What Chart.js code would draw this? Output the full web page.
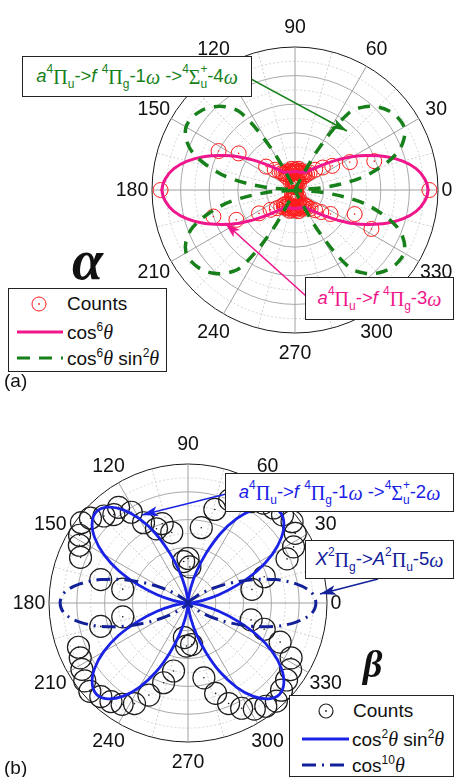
<!DOCTYPE html>
<html>
<head>
<meta charset="utf-8">
<script src="https://cdn.jsdelivr.net/npm/chart.js@4.4.1/dist/chart.umd.min.js"></script>
<style>
html,body{margin:0;padding:0;background:#fff}
body{width:455px;height:777px;position:relative;overflow:hidden;font-family:"Liberation Sans",Arial,sans-serif;color:#111}
canvas{position:absolute;left:0}
#polarA{top:0}
#polarB{top:390px}
svg.arrows{position:absolute;left:0;top:0;z-index:2}
.box{position:absolute;z-index:3;background:#fff;border:1px solid #222;box-sizing:border-box;font-size:18.5px;white-space:nowrap;display:flex;align-items:center;justify-content:center;line-height:1}
.g{font-family:"Liberation Serif","Times New Roman",serif;font-size:20px}
.w{font-family:"Liberation Serif","Times New Roman",serif;font-style:italic;font-size:20px}
.sp{font-size:12px;position:relative;top:-8px}
.sb{font-size:12px;position:relative;top:7px}
.legend{position:absolute;z-index:3;background:#fff;border:1px solid #222;box-sizing:border-box;font-size:19px}
.row{position:absolute;left:0;right:0;height:26px;display:flex;align-items:center;white-space:nowrap}
.row svg{position:absolute;left:0;top:0}
.row span.t{position:absolute}
.big{position:absolute;z-index:3;font-family:"Liberation Serif","Times New Roman",serif;font-style:italic;font-weight:bold;line-height:1}
.panel{position:absolute;z-index:3;font-size:19px;line-height:1}
</style>
</head>
<body>
<canvas id="polarA" width="455" height="380"></canvas>
<canvas id="polarB" width="455" height="387"></canvas>

<svg class="arrows" width="455" height="777">
  <defs>
    <marker id="hGreen" viewBox="0 0 16 10" refX="16" refY="5" markerWidth="16" markerHeight="10" markerUnits="userSpaceOnUse" orient="auto"><path d="M0,0 L16,5 L0,10 L4,5 z" fill="#17801a"/></marker>
    <marker id="hPink" viewBox="0 0 16 10" refX="16" refY="5" markerWidth="16" markerHeight="10" markerUnits="userSpaceOnUse" orient="auto"><path d="M0,0 L16,5 L0,10 L4,5 z" fill="#f0168c"/></marker>
    <marker id="hBlue" viewBox="0 0 16 10" refX="16" refY="5" markerWidth="16" markerHeight="10" markerUnits="userSpaceOnUse" orient="auto"><path d="M0,0 L16,5 L0,10 L4,5 z" fill="#1a22e6"/></marker>
    <marker id="hNavy" viewBox="0 0 16 10" refX="16" refY="5" markerWidth="16" markerHeight="10" markerUnits="userSpaceOnUse" orient="auto"><path d="M0,0 L16,5 L0,10 L4,5 z" fill="#12209a"/></marker>
  </defs>
  <line x1="251" y1="79" x2="347" y2="131" stroke="#17801a" stroke-width="1.5" marker-end="url(#hGreen)"/>
  <line x1="306" y1="296" x2="225" y2="223" stroke="#f0168c" stroke-width="1.5" marker-end="url(#hPink)"/>
  <line x1="226" y1="494" x2="142" y2="515" stroke="#1a22e6" stroke-width="1.5" marker-end="url(#hBlue)"/>
  <line x1="378" y1="579" x2="320" y2="594" stroke="#12209a" stroke-width="1.5" marker-end="url(#hNavy)"/>
</svg>

<!-- annotation boxes -->
<div class="box" style="left:22px;top:56px;width:230px;height:41px;color:#17801a">
  <i>a</i><span class="sp">4</span><span class="g">Π</span><span class="sb">u</span>-&gt;<i>f</i>&nbsp;<span class="sp">4</span><span class="g">Π</span><span class="sb">g</span>-1<span class="w">ω</span>&nbsp;-&gt;<span class="sp">4</span><span class="g">Σ</span><span class="sp">+</span><span class="sb" style="margin-left:-7px">u</span>-4<span class="w">ω</span>
</div>
<div class="box" style="left:305px;top:277px;width:149px;height:43px;color:#f0168c">
  <i>a</i><span class="sp">4</span><span class="g">Π</span><span class="sb">u</span>-&gt;<i>f</i>&nbsp;<span class="sp">4</span><span class="g">Π</span><span class="sb">g</span>-3<span class="w">ω</span>
</div>
<div class="box" style="left:225px;top:473px;width:229px;height:39px;color:#1a22e6">
  <i>a</i><span class="sp">4</span><span class="g">Π</span><span class="sb">u</span>-&gt;<i>f</i>&nbsp;<span class="sp">4</span><span class="g">Π</span><span class="sb">g</span>-1<span class="w">ω</span>&nbsp;-&gt;<span class="sp">4</span><span class="g">Σ</span><span class="sp">+</span><span class="sb" style="margin-left:-7px">u</span>-2<span class="w">ω</span>
</div>
<div class="box" style="left:305px;top:540px;width:149px;height:39px;color:#12209a">
  <i>X</i><span class="sp">2</span><span class="g">Π</span><span class="sb">g</span>-&gt;<i>A</i><span class="sp">2</span><span class="g">Π</span><span class="sb">u</span>-5<span class="w">ω</span>
</div>

<!-- legends -->
<div class="legend" style="left:8px;top:288px;width:159px;height:84px">
  <div class="row" style="top:2px">
    <svg width="60" height="26"><circle cx="30" cy="13" r="7" fill="none" stroke="#ff1a1a" stroke-width="1"/><circle cx="30" cy="13" r="0.9" fill="#ff1a1a"/></svg>
    <span class="t" style="left:58px">Counts</span>
  </div>
  <div class="row" style="top:30px">
    <svg width="60" height="26"><line x1="8" y1="13" x2="54" y2="13" stroke="#f0168c" stroke-width="3"/></svg>
    <span class="t" style="left:58px">cos<span class="sp">6</span><span class="w">θ</span></span>
  </div>
  <div class="row" style="top:56px">
    <svg width="60" height="26"><line x1="8" y1="13" x2="54" y2="13" stroke="#17801a" stroke-width="3" stroke-dasharray="13,9"/></svg>
    <span class="t" style="left:58px">cos<span class="sp">6</span><span class="w">θ</span> sin<span class="sp">2</span><span class="w">θ</span></span>
  </div>
</div>
<div class="legend" style="left:289px;top:695px;width:165px;height:82px">
  <div class="row" style="top:2px">
    <svg width="64" height="26"><circle cx="36" cy="13" r="7" fill="none" stroke="#222" stroke-width="1.2"/><circle cx="36" cy="13" r="0.9" fill="#222"/></svg>
    <span class="t" style="left:63px">Counts</span>
  </div>
  <div class="row" style="top:30px">
    <svg width="64" height="26"><line x1="12" y1="13" x2="59" y2="13" stroke="#1a22e6" stroke-width="3"/></svg>
    <span class="t" style="left:62px">cos<span class="sp">2</span><span class="w">θ</span> sin<span class="sp">2</span><span class="w">θ</span></span>
  </div>
  <div class="row" style="top:56px">
    <svg width="64" height="26"><line x1="12" y1="13" x2="59" y2="13" stroke="#12209a" stroke-width="3" stroke-dasharray="14,6,2,6"/></svg>
    <span class="t" style="left:62px">cos<span class="sp">10</span><span class="w">θ</span></span>
  </div>
</div>

<div class="big" style="left:72px;top:232px;font-size:56px">α</div>
<div class="big" style="left:363px;top:645px;font-size:38px">β</div>
<div class="panel" style="left:4px;top:371px">(a)</div>
<div class="panel" style="left:4px;top:758px">(b)</div>

<script>
// Angular tick labels (degrees, counter-clockwise from the right-hand axis)
const angleTickLabels = ['0', '30', '60', '90', '120', '150', '180', '210', '240', '270', '300', '330'];

// Sample angles of the fitted curves (degrees)
const curveAngles = [0, 5, 10, 15, 20, 25, 30, 35, 40, 45, 50, 55, 60, 65, 70, 75, 80, 85,
  90, 95, 100, 105, 110, 115, 120, 125, 130, 135, 140, 145, 150, 155, 160, 165, 170, 175,
  180, 185, 190, 195, 200, 205, 210, 215, 220, 225, 230, 235, 240, 245, 250, 255, 260, 265,
  270, 275, 280, 285, 290, 295, 300, 305, 310, 315, 320, 325, 330, 335, 340, 345, 350, 355];

// Panel (a): cos^6 fit (pink)
const fitCos6 = [0.93, 0.91, 0.86, 0.78, 0.68, 0.57, 0.47, 0.37, 0.29, 0.23, 0.19, 0.16, 0.14, 0.14, 0.13, 0.13, 0.13, 0.13,
  0.13, 0.13, 0.13, 0.13, 0.13, 0.14, 0.14, 0.16, 0.19, 0.23, 0.29, 0.37, 0.47, 0.57, 0.68, 0.78, 0.86, 0.91,
  0.93, 0.91, 0.86, 0.78, 0.68, 0.57, 0.47, 0.37, 0.29, 0.23, 0.19, 0.16, 0.14, 0.14, 0.13, 0.13, 0.13, 0.13,
  0.13, 0.13, 0.13, 0.13, 0.13, 0.14, 0.14, 0.16, 0.19, 0.23, 0.29, 0.37, 0.47, 0.57, 0.68, 0.78, 0.86, 0.91];

// Panel (a): cos^6 sin^2 fit (green dashed)
const fitCos6Sin2 = [0, 0.2, 0.45, 0.62, 0.76, 0.84, 0.88, 0.88, 0.86, 0.82, 0.76, 0.66, 0.35, 0.05, 0, 0, 0, 0,
  0, 0, 0, 0, 0, 0.05, 0.35, 0.66, 0.76, 0.82, 0.86, 0.88, 0.88, 0.84, 0.76, 0.62, 0.45, 0.2,
  0, 0.2, 0.45, 0.62, 0.76, 0.84, 0.88, 0.88, 0.86, 0.82, 0.76, 0.66, 0.35, 0.05, 0, 0, 0, 0,
  0, 0, 0, 0, 0, 0.05, 0.35, 0.66, 0.76, 0.82, 0.86, 0.88, 0.88, 0.84, 0.76, 0.62, 0.45, 0.2];

// Panel (a): measured counts (red circles)
const countsAngleA = [0, 20, 27, 33, 39, 45, 50,
  53, 55, 57, 59, 61, 63, 65, 67, 69, 71, 73, 75, 77, 79, 81, 83, 85, 87, 89,
  91, 93, 95, 97, 99, 101, 103, 105, 107, 109, 111, 113, 115, 117, 119, 121, 123, 125, 127,
  130, 135, 141, 147, 153, 180, 198, 207, 213, 219, 225, 230,
  233, 235, 237, 239, 241, 243, 245, 247, 249, 251, 253, 255, 257, 259, 261, 263, 265, 267, 269,
  271, 273, 275, 277, 279, 281, 283, 285, 287, 289, 291, 293, 295, 297, 299, 301, 303, 305, 307,
  310, 315, 320, 326, 333, 338];
const countsValueA = [0.94, 0.59, 0.43, 0.31, 0.25, 0.2, 0.16,
  0.14, 0.12, 0.05, 0.13, 0.11, 0.14, 0.03, 0.12, 0.13, 0.06, 0.14, 0.12, 0.02, 0.13, 0.15, 0.05, 0.13, 0.14, 0.03,
  0.14, 0.12, 0.06, 0.13, 0.15, 0.02, 0.12, 0.14, 0.05, 0.13, 0.11, 0.03, 0.14, 0.12, 0.06, 0.13, 0.11, 0.14, 0.15,
  0.17, 0.2, 0.26, 0.47, 0.6, 0.94, 0.6, 0.46, 0.3, 0.22, 0.18, 0.15,
  0.13, 0.12, 0.04, 0.14, 0.12, 0.13, 0.02, 0.14, 0.11, 0.05, 0.13, 0.15, 0.03, 0.12, 0.14, 0.06, 0.13, 0.12, 0.02,
  0.14, 0.13, 0.05, 0.12, 0.15, 0.03, 0.13, 0.11, 0.06, 0.14, 0.12, 0.02, 0.13, 0.14, 0.05, 0.12, 0.13, 0.14, 0.15,
  0.17, 0.2, 0.24, 0.3, 0.6, 0.45];

// Panel (b): cos^2 sin^2 fit (blue)
const fitCos2Sin2 = [0, 0.03, 0.11, 0.23, 0.38, 0.55, 0.7, 0.82, 0.9, 0.93, 0.9, 0.82, 0.7, 0.55, 0.38, 0.23, 0.11, 0.03,
  0, 0.03, 0.11, 0.23, 0.38, 0.55, 0.7, 0.82, 0.9, 0.93, 0.9, 0.82, 0.7, 0.55, 0.38, 0.23, 0.11, 0.03,
  0, 0.03, 0.11, 0.23, 0.38, 0.55, 0.7, 0.82, 0.9, 0.93, 0.9, 0.82, 0.7, 0.55, 0.38, 0.23, 0.11, 0.03,
  0, 0.03, 0.11, 0.23, 0.38, 0.55, 0.7, 0.82, 0.9, 0.93, 0.9, 0.82, 0.7, 0.55, 0.38, 0.23, 0.11, 0.03];

// Panel (b): cos^10 fit (navy dash-dot)
const fitCos10 = [0.92, 0.89, 0.79, 0.65, 0.49, 0.34, 0.22, 0.13, 0.06, 0.03, 0.01, 0, 0, 0, 0, 0, 0, 0,
  0, 0, 0, 0, 0, 0, 0, 0, 0.01, 0.03, 0.06, 0.13, 0.22, 0.34, 0.49, 0.65, 0.79, 0.89,
  0.92, 0.89, 0.79, 0.65, 0.49, 0.34, 0.22, 0.13, 0.06, 0.03, 0.01, 0, 0, 0, 0, 0, 0, 0,
  0, 0, 0, 0, 0, 0, 0, 0, 0.01, 0.03, 0.06, 0.13, 0.22, 0.34, 0.49, 0.65, 0.79, 0.89];

// Panel (b): measured counts (black circles)
const countsAngleB = [12, 19, 24, 28, 33, 38, 43, 48, 53, 58, 63, 68, 74, 80, 87, 90,
  96, 103, 108, 113, 119, 122, 126, 130, 134, 139, 143, 148, 152, 157, 165, 168,
  192, 195, 202, 207, 212, 217, 222, 227, 232, 237, 242, 247, 253, 258, 264, 268,
  275, 282, 287, 292, 297, 302, 307, 312, 317, 322, 327, 332, 337, 341, 345];
const countsValueB = [0.47, 0.58, 0.78, 0.86, 0.92, 0.95, 0.93, 0.92, 0.9, 0.86, 0.84, 0.8, 0.7, 0.55, 0.26, 0.32,
  0.3, 0.52, 0.6, 0.58, 0.66, 0.77, 0.85, 0.83, 0.87, 0.93, 0.96, 0.92, 0.885, 0.84, 0.65, 0.48,
  0.48, 0.65, 0.85, 0.87, 0.9, 0.93, 0.95, 0.92, 0.9, 0.87, 0.82, 0.72, 0.6, 0.5, 0.25, 0.31,
  0.3, 0.55, 0.68, 0.78, 0.85, 0.9, 0.93, 0.95, 0.92, 0.9, 0.88, 0.84, 0.72, 0.58, 0.47];

// One radar category per degree; index 0 sits at the top (90 deg) and runs clockwise.
const radarLabels = Array.from({ length: 360 }, (_, i) => String((450 - i) % 360));
const angleOfIndex = i => (450 - i) % 360;

function toRadar(angles, values) {
  const arr = new Array(360).fill(null);
  angles.forEach((a, k) => { arr[(450 - Math.round(a)) % 360] = values[k]; });
  return arr;
}

function polarScale() {
  return {
    min: 0,
    max: 1,
    startAngle: 0,
    ticks: { display: false, stepSize: 0.1 },
    pointLabels: { display: false },
    grid: {
      circular: true,
      lineWidth: 1,
      color: c => {
        const k = Math.round(c.tick.value * 10);
        if (k === 10) return '#1a1a1a';
        return k % 2 ? '#d4d4d4' : '#a9a9a9';
      }
    },
    border: { dash: c => (Math.round(c.tick.value * 10) % 2 ? [2, 2] : []) },
    angleLines: {
      color: c => (angleOfIndex(c.index) % 30 === 0 ? '#a0a0a0' : '#cfcfcf'),
      lineWidth: c => (angleOfIndex(c.index) % 15 === 0 ? 1 : 0),
      borderDash: c => (angleOfIndex(c.index) % 30 === 0 ? [] : [2, 2])
    }
  };
}

// Writes the angular tick labels just outside the outer ring.
const angleTickPlugin = {
  id: 'angleTicks',
  afterDraw(chart) {
    const s = chart.scales.r;
    const ctx = chart.ctx;
    ctx.save();
    ctx.font = '19.5px "Liberation Sans", Arial, sans-serif';
    ctx.fillStyle = '#111';
    ctx.textAlign = 'center';
    ctx.textBaseline = 'middle';
    angleTickLabels.forEach(lab => {
      const deg = Number(lab);
      const idx = (450 - deg) % 360;
      const p = s.getPointPosition(idx, s.drawingArea + (deg === 0 ? 9 : 20));
      ctx.fillText(lab, p.x, p.y + 1);
    });
    ctx.restore();
  }
};

function countSets(angles, values, color, radius, width) {
  const data = toRadar(angles, values);
  return [
    { label: 'Counts', data, showLine: false, fill: false, borderWidth: 0,
      pointRadius: radius, pointBorderWidth: width, pointBorderColor: color,
      pointBackgroundColor: 'rgba(0,0,0,0)', clip: false, order: 5 },
    { label: 'Counts centre', data, showLine: false, fill: false, borderWidth: 0,
      pointRadius: 0.8, pointBorderWidth: 0, pointBackgroundColor: color, clip: false, order: 4 }
  ];
}

function curveSet(label, values, color, width, dash, order) {
  return { label, data: toRadar(curveAngles, values), borderColor: color, borderWidth: width,
    borderDash: dash, pointRadius: 0, spanGaps: true, tension: 0.35, fill: false,
    clip: false, order };
}

function makeOptions(padding) {
  return {
    responsive: false,
    animation: false,
    layout: { padding },
    plugins: { legend: { display: false }, tooltip: { enabled: false } },
    scales: { r: polarScale() }
  };
}

new Chart(document.getElementById('polarA'), {
  type: 'radar',
  data: {
    labels: radarLabels,
    datasets: [
      ...countSets(countsAngleA, countsValueA, '#ff1a1a', 7.5, 1),
      curveSet('cos6', fitCos6, '#f0168c', 3, [], 2),
      curveSet('cos6 sin2', fitCos6Sin2, '#17801a', 3.5, [12, 9], 1)
    ]
  },
  options: makeOptions({ left: 152, right: 17, top: 47, bottom: 47 }),
  plugins: [angleTickPlugin]
});

new Chart(document.getElementById('polarB'), {
  type: 'radar',
  data: {
    labels: radarLabels,
    datasets: [
      ...countSets(countsAngleB, countsValueB, '#1c1c1c', 11, 1.2),
      curveSet('cos2 sin2', fitCos2Sin2, '#1a22e6', 2.8, [], 2),
      curveSet('cos10', fitCos10, '#12209a', 3, [14, 6, 2, 6], 1)
    ]
  },
  options: makeOptions({ left: 49, right: 128, top: 74, bottom: 35 }),
  plugins: [angleTickPlugin]
});
</script>
</body>
</html>
